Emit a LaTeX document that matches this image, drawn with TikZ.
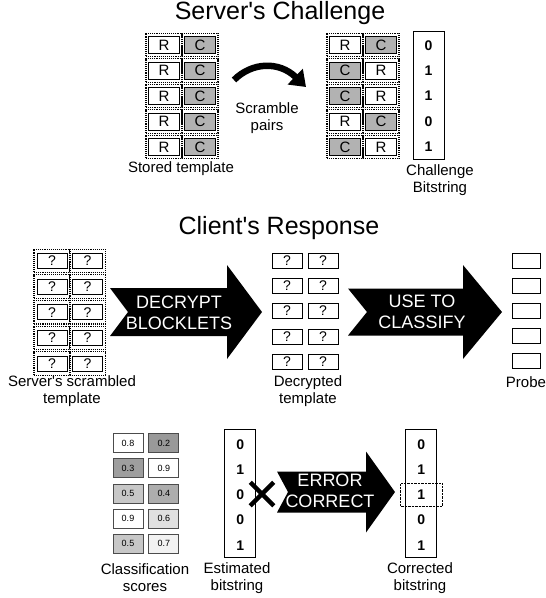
\documentclass[tikz,border=0pt]{standalone}
\usepackage{fontspec}
\setmainfont{Liberation Sans}
\usetikzlibrary{arrows.meta,positioning,calc,shapes.misc}

\newcommand{\txtsize}[2]{\fontsize{#1}{#2}\selectfont}
% notched block arrow: tail x, notch x, head x, tip x, centre y, body half, head half
\newcommand{\blockarrow}[7]{%
\fill (#1,#5-#6)--(#3,#5-#6)--(#3,#5-#7)--(#4,#5)--(#3,#5+#7)--(#3,#5+#6)--(#1,#5+#6)--(#2,#5)--cycle;}

\tikzset{
  cell/.style={draw,line width=.8pt,minimum width=31pt,minimum height=17pt,inner sep=0pt,font=\txtsize{15}{15}},
  cell R/.style={cell,fill=white},
  cell C/.style={cell,fill=black!30},
  dotcell/.style={draw,densely dotted,line width=1.1pt,minimum width=36pt,minimum height=23.5pt,inner sep=0pt},
  qcell/.style={draw,line width=.7pt,minimum width=30pt,minimum height=15pt,inner sep=0pt,font=\txtsize{14}{14}},
  score/.style={draw=black!70,line width=.7pt,minimum width=30pt,minimum height=19pt,inner sep=0pt,font=\txtsize{9}{9}},
  bitbox/.style={draw,line width=.8pt,minimum width=31pt,minimum height=128pt,inner sep=0pt},
  bit/.style={font=\txtsize{14}{14}\bfseries},
  lbl/.style={font=\txtsize{15}{17},align=center},
  heading/.style={font=\txtsize{25}{25}},
  blocktext/.style={text=white,font=\txtsize{18}{21},align=center}
}

\begin{document}
\begin{tikzpicture}[x=1pt,y=-1pt]
\useasboundingbox (0,0) rectangle (546,598);

% server's challenge
\node[heading] (srvtitle) at (280,13) {Server\textquotesingle s Challenge};
\foreach \r in {0,...,4}{
  \node[dotcell] (sda\r) at (164,{45+25.5*\r}) {};
  \node[dotcell] (sdb\r) at (200,{45+25.5*\r}) {};
  \node[cell R] (sta\r) at (sda\r) {R};
  \node[cell C] (stb\r) at (sdb\r) {C};
}
\node[lbl] (stored) at (181,169) {Stored template};

\coordinate (scrfrom) at (234,80);
\coordinate (scrto) at (306,87);
\draw[line width=6.5pt,-{Triangle[length=15pt,width=21pt]}] (scrfrom) .. controls (252,62) and (279,61) .. (scrto);
\node[lbl] (scramble) at (267,118) {Scramble\\pairs};

\foreach \r/\a/\b in {0/R/C,1/C/R,2/C/R,3/R/C,4/C/R}{
  \node[dotcell] (cda\r) at (345,{45+25.5*\r}) {};
  \node[dotcell] (cdb\r) at (381,{45+25.5*\r}) {};
  \node[cell \a] (cta\r) at (cda\r) {\a};
  \node[cell \b] (ctb\r) at (cdb\r) {\b};
}
\node[bitbox] (chal) at (428.5,95) {};
\foreach \b [count=\i from 0] in {0,1,1,0,1}
  \node[bit] (cb\i) at (428.5,{45.5+25.3*\i}) {\b};
\node[lbl] (challbl) at (440,180) {Challenge\\Bitstring};

% client's response
\node[heading] (clititle) at (279,228) {Client\textquotesingle s Response};
\foreach \r in {0,...,4}{
  \node[dotcell] (xda\r) at (52,{261+25.6*\r}) {};
  \node[dotcell] (xdb\r) at (87.5,{261+25.6*\r}) {};
  \node[qcell] (xa\r) at (xda\r) {?};
  \node[qcell] (xb\r) at (xdb\r) {?};
  \node[qcell] (da\r) at (287,{260.5+25.3*\r}) {?};
  \node[qcell] (db\r) at (323,{260.5+25.3*\r}) {?};
  \node[qcell,minimum width=28pt] (pr\r) at (526.5,{260.5+25*\r}) {};
}
\node[lbl] (scrlbl) at (72,391) {Server\textquotesingle s scrambled\\template};
\node[lbl] (declbl) at (308,391) {Decrypted\\template};
\node[lbl] (prolbl) at (526,382) {Probe};

\blockarrow{110}{128}{227}{262}{312}{24}{47}
\node[blocktext] (decrypt) at (179,313) {DECRYPT\\BLOCKLETS};
\blockarrow{348}{367}{463}{502}{312}{23.5}{47}
\node[blocktext] (classify) at (422,312) {USE TO\\CLASSIFY};

% scores and bitstrings
\foreach \r/\a/\sa/\b/\sb in {0/0.8/0/0.2/40,1/0.3/38/0.9/0,2/0.5/22/0.4/32,3/0.9/0/0.6/12,4/0.5/22/0.7/5}{
  \node[score,fill=black!\sa] (sca\r) at (128,{443+25.2*\r}) {\a};
  \node[score,fill=black!\sb] (scb\r) at (163.8,{443+25.2*\r}) {\b};
}
\node[lbl] (sclbl) at (145,578) {Classification\\scores};

\node[bitbox] (est) at (240.3,493.3) {};
\foreach \b [count=\i from 0] in {0,1,0,0,1}
  \node[bit] (eb\i) at (240.3,{444.5+25.2*\i}) {\b};
\node[lbl] (estlbl) at (237,578) {Estimated\\bitstring};

\node[cross out,draw,line width=4.5pt,minimum size=19pt,inner sep=0pt] (xmark) at (262,494) {};

\blockarrow{277}{288}{366}{395}{492}{20.5}{40.5}
\node[blocktext] (ecc) at (330,491) {ERROR\\CORRECT};

\node[bitbox] (cor) at (421.3,493.3) {};
\foreach \b [count=\i from 0] in {0,1,1,0,1}
  \node[bit] (ob\i) at (421.3,{444.5+25.2*\i}) {\b};
\node[draw,densely dotted,minimum width=41.6pt,minimum height=22.7pt] (fix) at (ob2) {};
\node[lbl] (corlbl) at (420,578) {Corrected\\bitstring};
\end{tikzpicture}
\end{document}
